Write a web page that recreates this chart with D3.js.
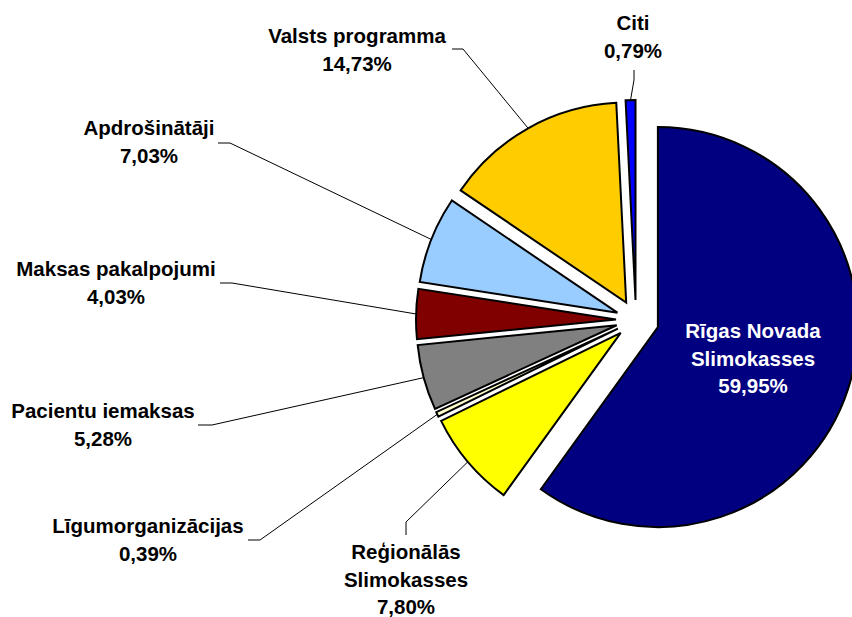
<!DOCTYPE html>
<html>
<head>
<meta charset="utf-8">
<script src="https://cdn.jsdelivr.net/npm/d3@7"></script>
<style>
  html, body { margin: 0; padding: 0; background: #fff; }
  svg { display: block; }
  text { font-family: "Liberation Sans", Arial, sans-serif; font-weight: bold; }
</style>
</head>
<body>
<svg id="chart" width="852" height="617"></svg>
<script>
// ---- data ----
const categories = [
  "Rīgas Novada\nSlimokasses",
  "Reģionālās\nSlimokasses",
  "Līgumorganizācijas",
  "Pacientu iemaksas",
  "Maksas pakalpojumi",
  "Apdrošinātāji",
  "Valsts programma",
  "Citi"
];
const values = [59.95, 7.80, 0.39, 5.28, 4.03, 7.03, 14.73, 0.79];
const colors = ["#000080", "#FFFF00", "#FFFFCC", "#808080", "#800000", "#99CCFF", "#FFCC00", "#0000FF"];

// ---- layout (positions of labels & leader lines) ----
const labelLayout = [
  { x: 753, y: 338, fill: "#fff", leader: null },
  { x: 406, y: 559, fill: "#000", leader: [[406, 535], [406, 522]] },
  { x: 148, y: 533, fill: "#000", leader: [[248, 540], [260, 540]] },
  { x: 103, y: 418, fill: "#000", leader: [[198, 425], [212, 425]] },
  { x: 116, y: 276, fill: "#000", leader: [[220, 283], [232, 283]] },
  { x: 149, y: 135, fill: "#000", leader: [[218, 143], [230, 143]] },
  { x: 357, y: 43, fill: "#000", leader: [[452, 49], [463, 49]] },
  { x: 633, y: 30, fill: "#000", leader: [[634, 70], [634, 80]] }
];
const explode = [23, 20, 20, 20, 20, 20, 20, 20];
const cx = 636, cy = 320, R = 200, lineH = 27.5;

const svg = d3.select("#chart");
const g = svg.append("g").attr("transform", `translate(${cx},${cy})`);

const pie = d3.pie().sort(null).value(d => d)(values);
const arc = d3.arc().innerRadius(0).outerRadius(R);

const fmt = v => d3.format(".2f")(v).replace(".", ",") + "%";

pie.forEach((p, i) => {
  const mid = (p.startAngle + p.endAngle) / 2;
  const dx = explode[i] * Math.sin(mid), dy = -explode[i] * Math.cos(mid);
  g.append("path")
    .attr("d", arc(p))
    .attr("transform", `translate(${dx},${dy})`)
    .attr("fill", colors[i])
    .attr("stroke", "#000")
    .attr("stroke-width", 2)
    .attr("stroke-linejoin", "miter");

  const L = labelLayout[i];
  if (L.leader) {
    const ex = cx + dx + R * Math.sin(mid), ey = cy + dy - R * Math.cos(mid);
    const pts = L.leader.concat([[ex, ey]]);
    svg.append("path")
      .attr("d", d3.line()(pts))
      .attr("fill", "none")
      .attr("stroke", "#000")
      .attr("stroke-width", 1);
  }
  const lines = categories[i].split("\n").concat([fmt(values[i])]);
  const t = svg.append("text")
    .attr("text-anchor", "middle")
    .attr("font-size", 20.5)
    .attr("fill", L.fill);
  lines.forEach((ln, k) => {
    t.append("tspan").attr("x", L.x).attr("y", L.y + k * lineH).text(ln);
  });
});
</script>
</body>
</html>
